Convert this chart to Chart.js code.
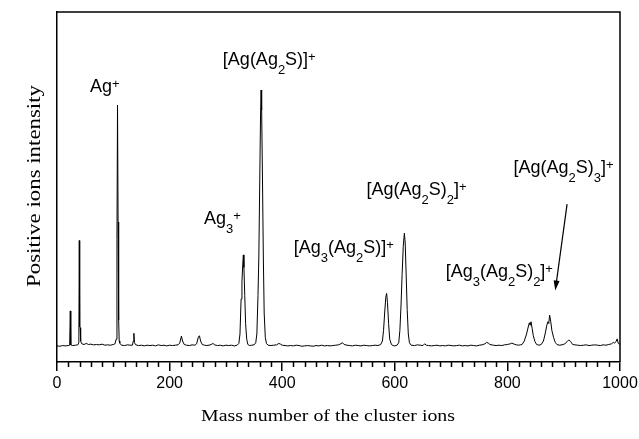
<!DOCTYPE html>
<html>
<head>
<meta charset="utf-8">
<script src="https://cdn.jsdelivr.net/npm/chart.js@4/dist/chart.umd.min.js"></script>
<style>
  html, body { margin: 0; padding: 0; background: #fff; }
</style>
</head>
<body>
<canvas id="chart" width="639" height="439"></canvas>
<script>
// mass spectrum (mass number, intensity in arbitrary units 0-100)
const mass = [
  0, 5, 10, 15, 20, 22.5, 23.6, 24.5, 28, 33, 37, 38.8, 39.6, 40.3, 41.2, 42, 44, 48, 52, 56,
  60, 65, 70, 75, 80, 85, 90, 95, 100, 103, 105, 106.5, 107.5, 108.5, 109.5, 110.5, 111.5, 112, 115, 120,
  125, 130, 134, 135.5, 136.6, 137.6, 140, 145, 150, 155, 160, 165, 170, 175, 180, 185, 190, 195, 200, 205,
  210, 215, 218, 221, 223, 226, 230, 235, 240, 245, 248, 251, 253, 255, 258, 262, 266, 270, 274, 277,
  280, 285, 290, 295, 300, 305, 310, 315, 320, 323, 325, 327, 328.5, 330, 331, 332, 333.5, 335, 337, 339,
  342, 346, 350, 353, 355, 357, 358.5, 360, 361.5, 362.5, 363.5, 365, 366.5, 368, 370, 372, 375, 380, 385, 390,
  394, 397, 400, 405, 410, 415, 420, 425, 430, 435, 440, 445, 450, 455, 460, 465, 470, 475, 480, 485,
  490, 495, 500, 504, 507, 510, 515, 520, 525, 530, 535, 540, 545, 550, 555, 560, 565, 570, 575, 578,
  580, 582, 584, 585.5, 587, 589, 591, 594, 597, 600, 604, 607, 609, 611, 613, 615, 617, 618.5, 620, 622,
  624, 626, 629, 635, 640, 645, 650, 653, 656, 660, 665, 670, 675, 680, 685, 690, 695, 700, 705, 710,
  715, 720, 725, 730, 735, 740, 745, 750, 755, 760, 763, 766, 769, 775, 780, 785, 790, 795, 800, 805,
  808, 812, 816, 820, 823, 826, 830, 834, 837, 839, 840.5, 842, 844, 846, 849, 852, 856, 860, 864, 867,
  870, 872, 873.5, 875, 877, 879, 882, 885, 888, 892, 897, 902, 906, 909, 912, 916, 920, 925, 930, 935,
  940, 945, 950, 955, 960, 965, 970, 975, 980, 985, 988, 990, 993, 995, 997, 1000
];
const intensity = [
  4.6, 4.5, 4.7, 4.6, 4.7, 4.8, 14.6, 4.9, 4.7, 4.8, 4.9, 5.5, 34.7, 10, 9.8, 6, 5.2, 5.0, 5.3, 5.0,
  5.1, 4.9, 5.0, 4.9, 5.1, 4.8, 4.9, 4.8, 5.0, 5.2, 6.5, 35, 73.4, 40, 12, 6, 5.4, 5.2, 4.8, 4.7,
  4.9, 4.8, 4.8, 6, 8.2, 5.5, 4.9, 4.7, 4.8, 4.6, 4.8, 4.7, 4.8, 4.6, 4.9, 4.7, 4.8, 4.6, 4.8, 4.7,
  4.8, 4.9, 5.4, 7.4, 6.0, 5.0, 4.8, 4.7, 4.9, 4.8, 5.2, 7.1, 7.5, 6.0, 5.0, 4.8, 4.7, 4.8, 5.0, 5.3,
  4.9, 4.7, 4.8, 4.6, 4.8, 4.7, 4.8, 4.6, 4.8, 5.3, 8, 18, 23, 28, 30.6, 27, 19, 11, 6.5, 5.0,
  4.7, 4.8, 4.9, 5.5, 8, 19, 30, 50, 70, 77.7, 72, 52, 30, 14, 7, 5.3, 4.8, 4.7, 4.8, 4.9,
  5.3, 5.1, 4.8, 4.7, 4.6, 4.7, 4.6, 4.8, 4.7, 4.5, 4.6, 4.7, 4.6, 4.5, 4.7, 4.6, 4.8, 4.6, 4.7, 4.6,
  4.7, 4.8, 4.9, 5.2, 5.5, 5.0, 4.8, 4.7, 4.6, 4.8, 4.7, 4.6, 4.8, 4.7, 4.6, 4.7, 4.8, 4.7, 5.0, 6,
  9, 14, 18.5, 19.6, 17, 11, 6.5, 5.0, 4.7, 4.6, 4.8, 5.5, 9, 16, 25, 33, 36.8, 34, 26, 15,
  8, 5.5, 4.8, 4.7, 4.9, 4.8, 4.7, 5.2, 4.8, 4.7, 4.6, 4.7, 4.8, 4.6, 4.7, 4.6, 4.8, 4.7, 4.6, 4.7,
  4.8, 4.6, 4.7, 4.6, 4.8, 4.7, 4.6, 4.8, 4.9, 5.2, 5.6, 5.4, 5.0, 4.8, 4.7, 4.8, 4.7, 4.9, 5.0, 5.2,
  5.4, 5.1, 4.9, 4.8, 4.9, 5.0, 6, 8, 10, 11.2, 10.5, 11.5, 9.5, 7.5, 5.8, 5.0, 4.8, 5.0, 6, 8,
  10.5, 11.5, 11, 13.4, 11.5, 9, 7, 5.6, 5.0, 4.8, 4.9, 5.2, 5.8, 6.3, 5.9, 5.0, 4.9, 4.8, 4.7, 4.8,
  4.9, 4.7, 4.8, 4.9, 4.8, 4.7, 4.9, 4.8, 5.0, 5.2, 5.6, 5.4, 5.8, 6.6, 5.3, 5.0
];

const xTicks = [0, 200, 400, 600, 800, 1000];
const xTitle = 'Mass number of the cluster ions';
const yTitle = 'Positive ions intensity';

// peak labels: [mass, intensity] of the text's left baseline, then text pieces
const peakLabels = [
  [58.6, 77.1, [['Ag', 'n'], ['+', 'sup']]],
  [294.6, 84.9, [['[Ag(Ag', 'n'], ['2', 'sub'], ['S)]', 'n'], ['+', 'sup']]],
  [260.9, 39.3, [['Ag', 'n'], ['3', 'sub'], ['+', 'sup']]],
  [420.6, 31.1, [['[Ag', 'n'], ['3', 'sub'], ['(Ag', 'n'], ['2', 'sub'], ['S)]', 'n'], ['+', 'sup']]],
  [549.6, 47.7, [['[Ag(Ag', 'n'], ['2', 'sub'], ['S)', 'n'], ['2', 'sub'], [']', 'n'], ['+', 'sup']]],
  [811, 54.1, [['[Ag(Ag', 'n'], ['2', 'sub'], ['S)', 'n'], ['3', 'sub'], [']', 'n'], ['+', 'sup']]],
  [690.3, 24.4, [['[Ag', 'n'], ['3', 'sub'], ['(Ag', 'n'], ['2', 'sub'], ['S)', 'n'], ['2', 'sub'], [']', 'n'], ['+', 'sup']]]
];
const arrowFrom = [906, 45.1];
const arrowTo = [885, 20.4];

function drawRich(ctx, x, y, parts) {
  for (const [txt, kind] of parts) {
    let dy = 0;
    if (kind === 'n') ctx.font = '18px "Liberation Sans"';
    else ctx.font = '13px "Liberation Sans"';
    if (kind === 'sub') dy = 9;
    if (kind === 'sup') dy = -4;
    ctx.fillText(txt, x, y + dy);
    x += ctx.measureText(txt).width;
  }
}

function drawFitted(ctx, text, cx, cy, width, angle, font) {
  ctx.save();
  ctx.font = font;
  ctx.translate(cx, cy);
  ctx.rotate(angle);
  ctx.scale(width / ctx.measureText(text).width, 1);
  ctx.textAlign = 'center';
  ctx.fillText(text, 0, 0);
  ctx.restore();
}

const decor = {
  id: 'decor',
  afterDraw(chart) {
    const ctx = chart.ctx;
    const xs = chart.scales.x, ys = chart.scales.y;
    const area = chart.chartArea;
    ctx.save();
    ctx.strokeStyle = '#000';
    ctx.fillStyle = '#000';

    // top and right frame
    ctx.lineWidth = 1.5;
    ctx.beginPath();
    ctx.moveTo(area.left, area.top);
    ctx.lineTo(area.right, area.top);
    ctx.lineTo(area.right, area.bottom);
    ctx.stroke();

    // minor ticks every 20
    ctx.beginPath();
    for (let m = 20; m < 1000; m += 20) {
      if (m % 200 === 0) continue;
      const px = Math.round(xs.getPixelForValue(m)) + 0.5;
      ctx.moveTo(px, area.bottom);
      ctx.lineTo(px, area.bottom + 5);
    }
    ctx.stroke();

    // peak labels
    ctx.textAlign = 'left';
    ctx.textBaseline = 'alphabetic';
    for (const [m, v, parts] of peakLabels) {
      drawRich(ctx, xs.getPixelForValue(m), ys.getPixelForValue(v), parts);
    }

    // arrow
    const x1 = xs.getPixelForValue(arrowFrom[0]), y1 = ys.getPixelForValue(arrowFrom[1]);
    const x2 = xs.getPixelForValue(arrowTo[0]), y2 = ys.getPixelForValue(arrowTo[1]);
    const a = Math.atan2(y2 - y1, x2 - x1);
    ctx.lineWidth = 1.2;
    ctx.beginPath();
    ctx.moveTo(x1, y1);
    ctx.lineTo(x2 - 8 * Math.cos(a), y2 - 8 * Math.sin(a));
    ctx.stroke();
    ctx.beginPath();
    ctx.moveTo(x2, y2);
    ctx.lineTo(x2 - 10 * Math.cos(a) + 3 * Math.sin(a), y2 - 10 * Math.sin(a) - 3 * Math.cos(a));
    ctx.lineTo(x2 - 10 * Math.cos(a) - 3 * Math.sin(a), y2 - 10 * Math.sin(a) + 3 * Math.cos(a));
    ctx.closePath();
    ctx.fill();

    // axis titles
    drawFitted(ctx, xTitle, 328, 421, 254, 0, '16px "Liberation Serif"');
    drawFitted(ctx, yTitle, 40, 186, 202, -Math.PI / 2, '18px "Liberation Serif"');
    ctx.restore();
  }
};

new Chart(document.getElementById('chart'), {
  type: 'line',
  data: {
    datasets: [{
      data: mass.map((m, i) => ({ x: m, y: intensity[i] })),
      borderColor: '#000',
      borderWidth: 1,
      pointRadius: 0,
      tension: 0,
      fill: false
    }]
  },
  options: {
    responsive: false,
    animation: false,
    layout: { padding: { left: 57, right: 19, top: 12, bottom: 0 } },
    plugins: { legend: { display: false }, tooltip: { enabled: false } },
    scales: {
      x: {
        type: 'linear',
        min: 0,
        max: 1000,
        afterBuildTicks(s) { s.ticks = xTicks.map(v => ({ value: v })); },
        afterFit(s) { s.height = 77; s.paddingLeft = 0; s.paddingRight = 0; },
        ticks: {
          color: '#000',
          font: { family: 'Liberation Sans', size: 16 },
          padding: 3,
          maxRotation: 0,
          autoSkip: false,
          callback: v => String(v)
        },
        grid: { drawOnChartArea: false, tickLength: 9, color: '#000', lineWidth: 1.5 },
        border: { color: '#000', width: 1.5 }
      },
      y: {
        min: 0,
        max: 100,
        afterFit(s) { s.width = 0; },
        ticks: { display: false },
        grid: { display: false },
        border: { color: '#000', width: 1.5 }
      }
    }
  },
  plugins: [decor]
});
</script>
</body>
</html>
